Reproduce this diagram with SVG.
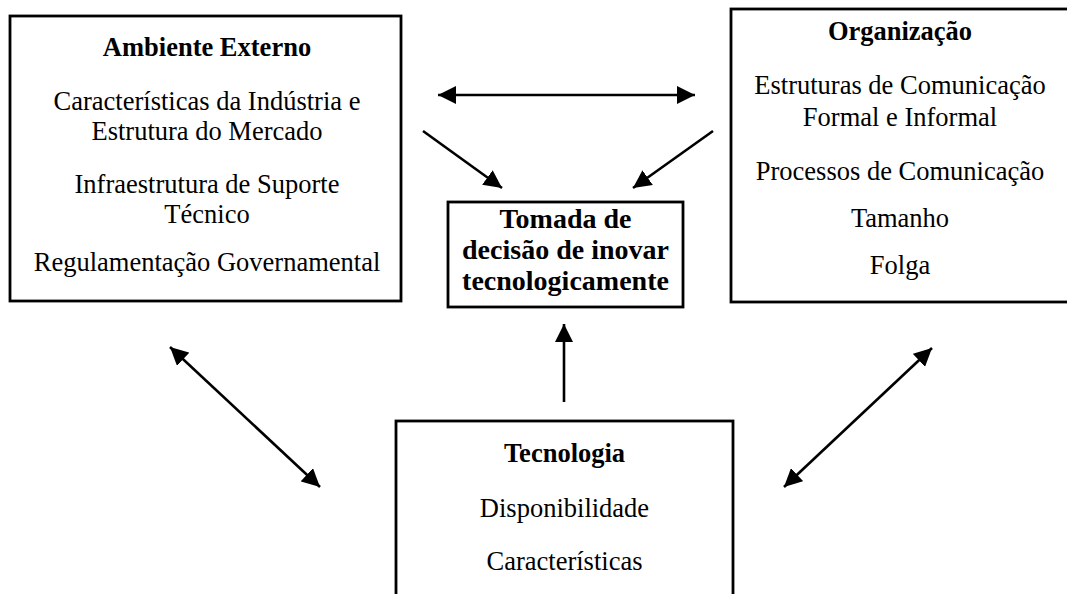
<svg xmlns="http://www.w3.org/2000/svg" width="1067" height="594" viewBox="0 0 1067 594">
<style>
.box{fill:#fff;stroke:#000;stroke-width:2.8}
.t{font-family:"Liberation Serif","Times New Roman",serif;font-size:26.5px;text-anchor:middle;fill:#000}
.b{font-weight:bold}
.c{font-size:28px}
.ln{stroke:#000;stroke-width:2.6;fill:none}
</style>
<defs>
<marker id="ah" markerUnits="userSpaceOnUse" markerWidth="20" markerHeight="18" refX="18" refY="9" orient="auto-start-reverse" viewBox="0 0 20 18">
<path d="M0,0 L18,9 L0,18 z" fill="#000"/>
</marker>
</defs>
<rect width="1067" height="594" fill="#fff"/>
<g id="ambiente">
<rect class="box" x="10" y="16" width="391" height="285"/>
<text class="t b" x="207" y="56">Ambiente Externo</text>
<text class="t" x="207" y="110">Características da Indústria e</text>
<text class="t" x="207" y="140">Estrutura do Mercado</text>
<text class="t" x="207" y="193">Infraestrutura de Suporte</text>
<text class="t" x="207" y="223">Técnico</text>
<text class="t" x="207" y="271">Regulamentação Governamental</text>
</g>
<g id="organizacao">
<rect class="box" x="731" y="9" width="340" height="293"/>
<text class="t b" x="900" y="40">Organização</text>
<text class="t" x="900" y="94">Estruturas de Comunicação</text>
<text class="t" x="900" y="126">Formal e Informal</text>
<text class="t" x="900" y="180">Processos de Comunicação</text>
<text class="t" x="900" y="227">Tamanho</text>
<text class="t" x="900" y="274">Folga</text>
</g>
<g id="decisao">
<rect class="box" x="448" y="202" width="235" height="105"/>
<text class="t b c" x="565.5" y="228">Tomada de</text>
<text class="t b c" x="565.5" y="259">decisão de inovar</text>
<text class="t b c" x="565.5" y="290">tecnologicamente</text>
</g>
<g id="tecnologia">
<rect class="box" x="396" y="421" width="337" height="180"/>
<text class="t b" x="564.5" y="462">Tecnologia</text>
<text class="t" x="564.5" y="517">Disponibilidade</text>
<text class="t" x="564.5" y="570">Características</text>
</g>
<g id="connectors">
<line class="ln" x1="438" y1="95" x2="695" y2="95" marker-start="url(#ah)" marker-end="url(#ah)"/>
<line class="ln" x1="423" y1="131" x2="502" y2="188" marker-end="url(#ah)"/>
<line class="ln" x1="713" y1="131" x2="633" y2="188" marker-end="url(#ah)"/>
<line class="ln" x1="564" y1="402" x2="564" y2="324" marker-end="url(#ah)"/>
<line class="ln" x1="170" y1="347" x2="320" y2="487" marker-start="url(#ah)" marker-end="url(#ah)"/>
<line class="ln" x1="932" y1="348" x2="784" y2="487" marker-start="url(#ah)" marker-end="url(#ah)"/>
</g>
</svg>
